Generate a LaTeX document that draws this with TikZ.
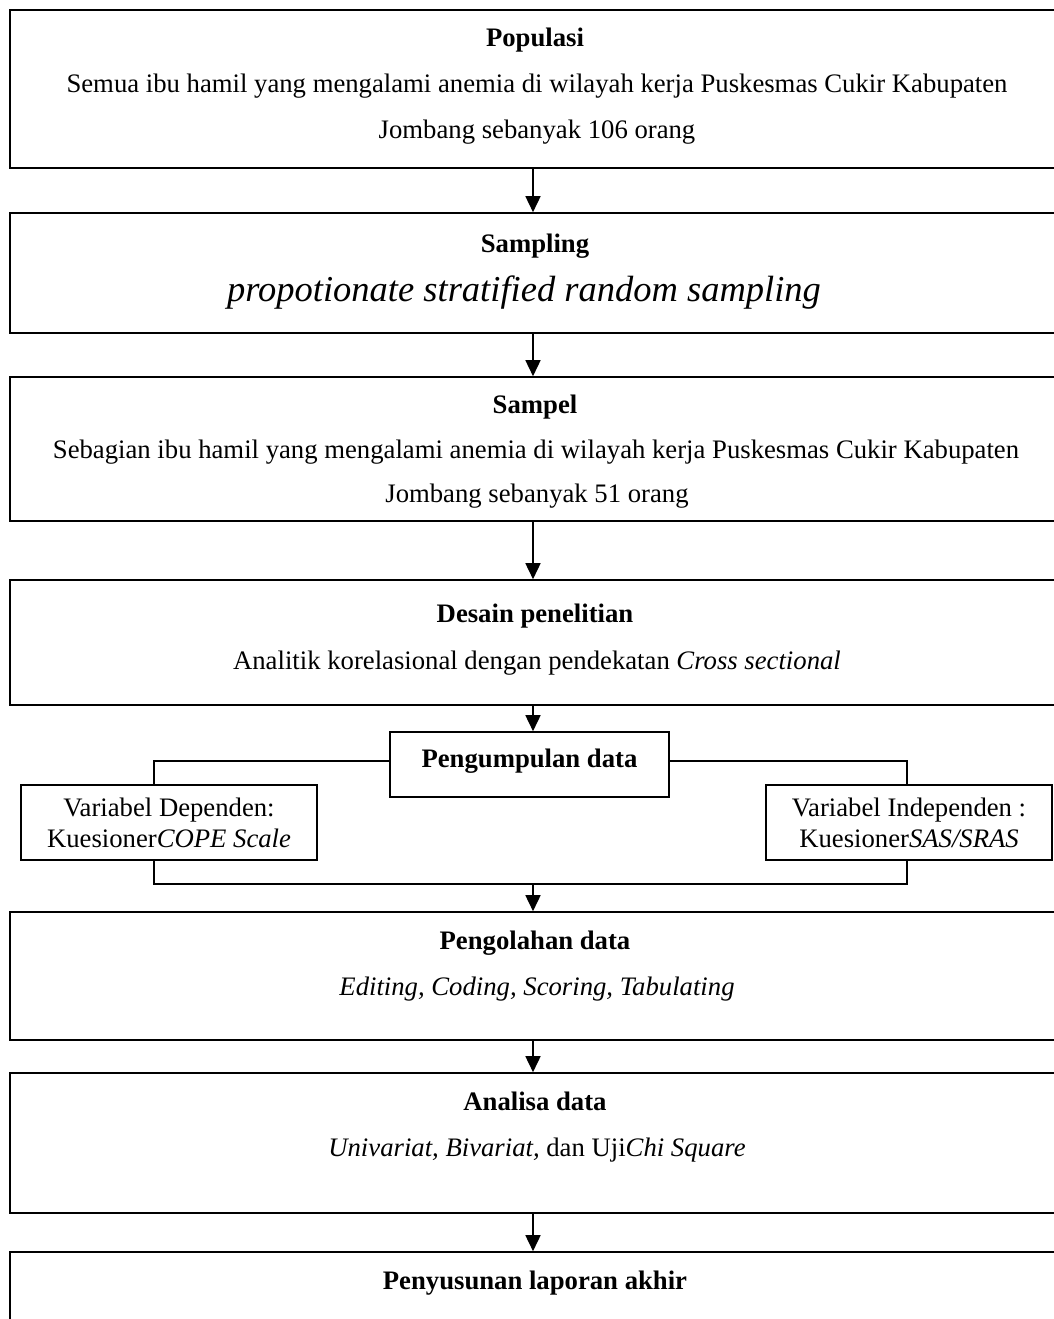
\documentclass[tikz,border=0pt]{standalone}
\usepackage{fontspec}
\setmainfont{Liberation Serif}
\usetikzlibrary{arrows.meta}
\begin{document}
\begin{tikzpicture}[x=1pt,y=-1pt,
  box/.style={draw, line width=1.6pt, inner sep=0pt},
  txt/.style={anchor=base, inner sep=0pt, font=\fontsize{26.7}{30}\selectfont},
  hd/.style={anchor=base, inner sep=0pt, font=\fontsize{26.7}{30}\selectfont\bfseries},
  arr/.style={line width=1.6pt, -{Triangle[length=16pt,width=15pt]}},
  conn/.style={line width=1.6pt}]
\useasboundingbox (0,0) rectangle (1054,1319);
\clip (0,0) rectangle (1054,1319);
\fill[white] (0,0) rectangle (1054,1319);

% main boxes
\node[box, minimum width=1046pt, minimum height=158pt] (b1) at (533,89) {};
\node[box, minimum width=1046pt, minimum height=120pt] (b2) at (533,273) {};
\node[box, minimum width=1046pt, minimum height=144pt] (b3) at (533,449) {};
\node[box, minimum width=1046pt, minimum height=125pt] (b4) at (533,642.5) {};
\node[box, minimum width=279pt, minimum height=65pt] (pg) at (529.5,764.5) {};
\node[box, minimum width=296pt, minimum height=75pt, align=center,
      font=\fontsize{26.7}{31}\selectfont] (vd) at (169,822.5) {Variabel Dependen:\\Kuesioner\textit{COPE Scale}};
\node[box, minimum width=286pt, minimum height=75pt, align=center,
      font=\fontsize{26.7}{31}\selectfont] (vi) at (909,822.5) {Variabel Independen :\\Kuesioner\textit{SAS/SRAS}};
\node[box, minimum width=1046pt, minimum height=128pt] (b5) at (533,976) {};
\node[box, minimum width=1046pt, minimum height=140pt] (b6) at (533,1143) {};
\node[box, minimum width=1046pt, minimum height=120pt] (b7) at (533,1312) {};

% texts
\node[hd]  (t1a) at (535,47)  {Populasi};
\node[txt] (t1b) at (537,93)  {Semua ibu hamil yang mengalami anemia di wilayah kerja Puskesmas Cukir Kabupaten};
\node[txt] (t1c) at (537,139) {Jombang sebanyak 106 orang};
\node[hd]  (t2a) at (535,252) {Sampling};
\node[anchor=base, inner sep=0pt, font=\fontsize{36.5}{40}\selectfont\itshape] (t2b) at (524,301) {propotionate stratified random sampling};
\node[hd]  (t3a) at (535,413) {Sampel};
\node[txt] (t3b) at (536,458) {Sebagian ibu hamil yang mengalami anemia di wilayah kerja Puskesmas Cukir Kabupaten};
\node[txt] (t3c) at (537,502) {Jombang sebanyak 51 orang};
\node[hd]  (t4a) at (535,622) {Desain penelitian};
\node[txt] (t4b) at (537,669) {Analitik korelasional dengan pendekatan \textit{Cross sectional}};
\node[hd]  (tpg) at (529.5,767) {Pengumpulan data};
\node[hd]  (t5a) at (535,949) {Pengolahan data};
\node[txt] (t5b) at (537,995) {\textit{Editing, Coding, Scoring, Tabulating}};
\node[hd]  (t6a) at (535,1110) {Analisa data};
\node[txt] (t6b) at (537,1156) {\textit{Univariat, Bivariat,} dan Uji\textit{Chi Square}};
\node[hd]  (t7a) at (535,1289) {Penyusunan laporan akhir};

% connector junctions
\coordinate (lt) at (154,761);
\coordinate (rt) at (907,761);
\coordinate (lb) at (154,884);
\coordinate (rb) at (907,884);
\coordinate (mb) at (533,884);

% arrows
\draw[arr] (b1.south) -- (b2.north);
\draw[arr] (b2.south) -- (b3.north);
\draw[arr] (b3.south) -- (b4.north);
\draw[arr] (b4.south) -- (b4.south |- pg.north);
\draw[conn] (pg.west |- lt) -- (lt) -- (lt |- vd.north);
\draw[conn] (pg.east |- rt) -- (rt) -- (rt |- vi.north);
\draw[conn] (lb |- vd.south) -- (lb) -- (rb) -- (rb |- vi.south);
\draw[arr] (mb) -- (b5.north);
\draw[arr] (b5.south) -- (b6.north);
\draw[arr] (b6.south) -- (b7.north);
\end{tikzpicture}
\end{document}
